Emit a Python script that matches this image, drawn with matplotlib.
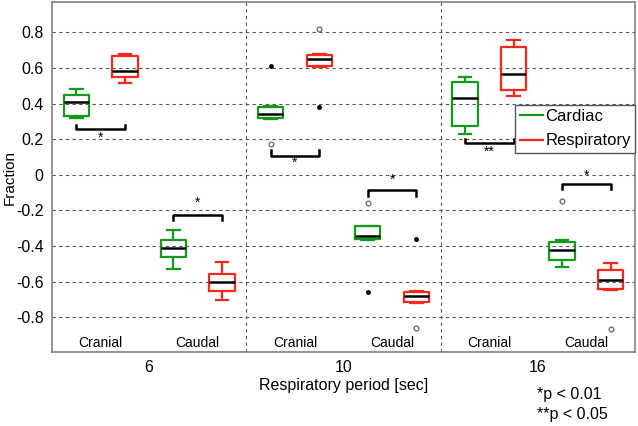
import matplotlib.pyplot as plt
from matplotlib.lines import Line2D

plt.rcParams['font.family'] = ['Liberation Sans', 'DejaVu Sans']

# Respiratory periods (group labels) and sub-categories
periods = ["6", "10", "16"]
regions = ["Cranial", "Caudal"]
series = ["Cardiac", "Respiratory"]
colors = {"Cardiac": "#15991a", "Respiratory": "#f2291c"}

# box stats per group: [cranial cardiac, cranial resp, caudal cardiac, caudal resp]
# each entry: (whislo, q1, med, q3, whishi)
box_stats = [
    [(0.32, 0.33, 0.41, 0.45, 0.48),
     (0.515, 0.55, 0.585, 0.665, 0.68),
     (-0.53, -0.46, -0.41, -0.365, -0.31),
     (-0.705, -0.655, -0.60, -0.555, -0.49)],
    [(0.315, 0.32, 0.34, 0.38, 0.385),
     (0.605, 0.612, 0.65, 0.674, 0.68),
     (-0.365, -0.36, -0.343, -0.29, -0.285),
     (-0.72, -0.715, -0.68, -0.66, -0.65)],
    [(0.23, 0.275, 0.43, 0.52, 0.55),
     (0.44, 0.475, 0.565, 0.715, 0.755),
     (-0.52, -0.478, -0.425, -0.375, -0.365),
     (-0.645, -0.64, -0.59, -0.535, -0.495)],
]

# outliers: (group, box index, value)
open_outliers = [(1, 0, 0.172), (1, 1, 0.82), (1, 2, -0.16), (1, 3, -0.858),
                 (2, 2, -0.148), (2, 3, -0.867)]
dot_outliers = [(1, 0, 0.612), (1, 1, 0.378), (1, 2, -0.659), (1, 3, -0.36)]

# significance brackets: (group, region index, bar y, tick y, label, label y)
brackets = [
    (0, 0, 0.258, 0.28, "*", 0.21),
    (0, 1, -0.225, -0.253, "*", -0.16),
    (1, 0, 0.103, 0.14, "*", 0.07),
    (1, 1, -0.088, -0.118, "*", -0.028),
    (2, 0, 0.178, 0.20, "**", 0.131),
    (2, 1, -0.052, -0.08, "*", -0.004),
]

footnotes = ["*p < 0.01", "**p < 0.05"]

offsets = [0.125, 0.375, 0.625, 0.875]
box_w = 0.13

fig = plt.figure(figsize=(6.38, 4.26), dpi=100)
ax = fig.add_axes([0.0815, 0.1737, 0.9138, 0.8216])

for g, group in enumerate(box_stats):
    for i, (lo, q1, med, q3, hi) in enumerate(group):
        col = colors[series[i % 2]]
        st = [{"whislo": lo, "q1": q1, "med": med, "q3": q3, "whishi": hi, "fliers": []}]
        ax.bxp(st, positions=[g + offsets[i]], widths=box_w, showfliers=False,
               patch_artist=False, manage_ticks=False,
               boxprops=dict(color=col, lw=1.6),
               whiskerprops=dict(color=col, lw=1.6, linestyle='-'),
               capprops=dict(color=col, lw=1.6),
               medianprops=dict(color='black', lw=1.8))

for g, i, v in open_outliers:
    ax.plot(g + offsets[i], v, 'o', ms=3.5, mfc='white', mec='#555555', mew=0.8, zorder=3)
for g, i, v in dot_outliers:
    ax.plot(g + offsets[i], v, 'o', ms=2.5, mfc='black', mec='black', zorder=3)

for g, r, yb, yt, lab, ly in brackets:
    x0 = g + offsets[2 * r]
    x1 = g + offsets[2 * r + 1]
    ax.plot([x0, x0, x1, x1], [yt, yb, yb, yt], color='black', lw=1.8, zorder=4)
    ax.text((x0 + x1) / 2, ly, lab, ha='center', va='center', fontsize=10)

for g in range(3):
    for r, name in enumerate(regions):
        ax.text(g + 0.25 + 0.5 * r, -0.985, name, ha='center', va='bottom', fontsize=10)

for xv in [1, 2]:
    ax.axvline(xv, color='#555555', ls=(0, (3, 3)), lw=0.8)

ax.set_xlim(0, 3)
ax.set_ylim(-0.995, 0.97)
ax.set_yticks([-0.8, -0.6, -0.4, -0.2, 0, 0.2, 0.4, 0.6, 0.8])
ax.set_yticklabels(["-0.8", "-0.6", "-0.4", "-0.2", "0", "0.2", "0.4", "0.6", "0.8"])
ax.set_xticks([0.5, 1.5, 2.5])
ax.set_xticklabels(periods)
ax.tick_params(axis='both', labelsize=11.5, length=0, pad=6)
ax.yaxis.grid(True, color='#555555', ls=(0, (3, 3)), lw=0.8)
ax.set_axisbelow(True)
for sp in ax.spines.values():
    sp.set_color('#808080')
    sp.set_linewidth(1.2)

ax.set_ylabel("Fraction", fontsize=11)
ax.yaxis.set_label_coords(-0.06, 0.5)
ax.set_xlabel("Respiratory period [sec]", fontsize=11.5, labelpad=2)

handles = [Line2D([], [], color=colors[s], lw=1.6) for s in series]
leg = ax.legend(handles, series, loc='lower right', bbox_to_anchor=(1.0, 0.57),
                fontsize=12, handlelength=1.4, handletextpad=0.15, borderpad=0.25,
                labelspacing=0.55, fancybox=False, framealpha=1, borderaxespad=0)
leg.get_frame().set_edgecolor('#555555')

fig.text(0.842, 0.073, footnotes[0], fontsize=11.5, va='center')
fig.text(0.842, 0.026, footnotes[1], fontsize=11.5, va='center')

fig.savefig("out.png", dpi=100)
